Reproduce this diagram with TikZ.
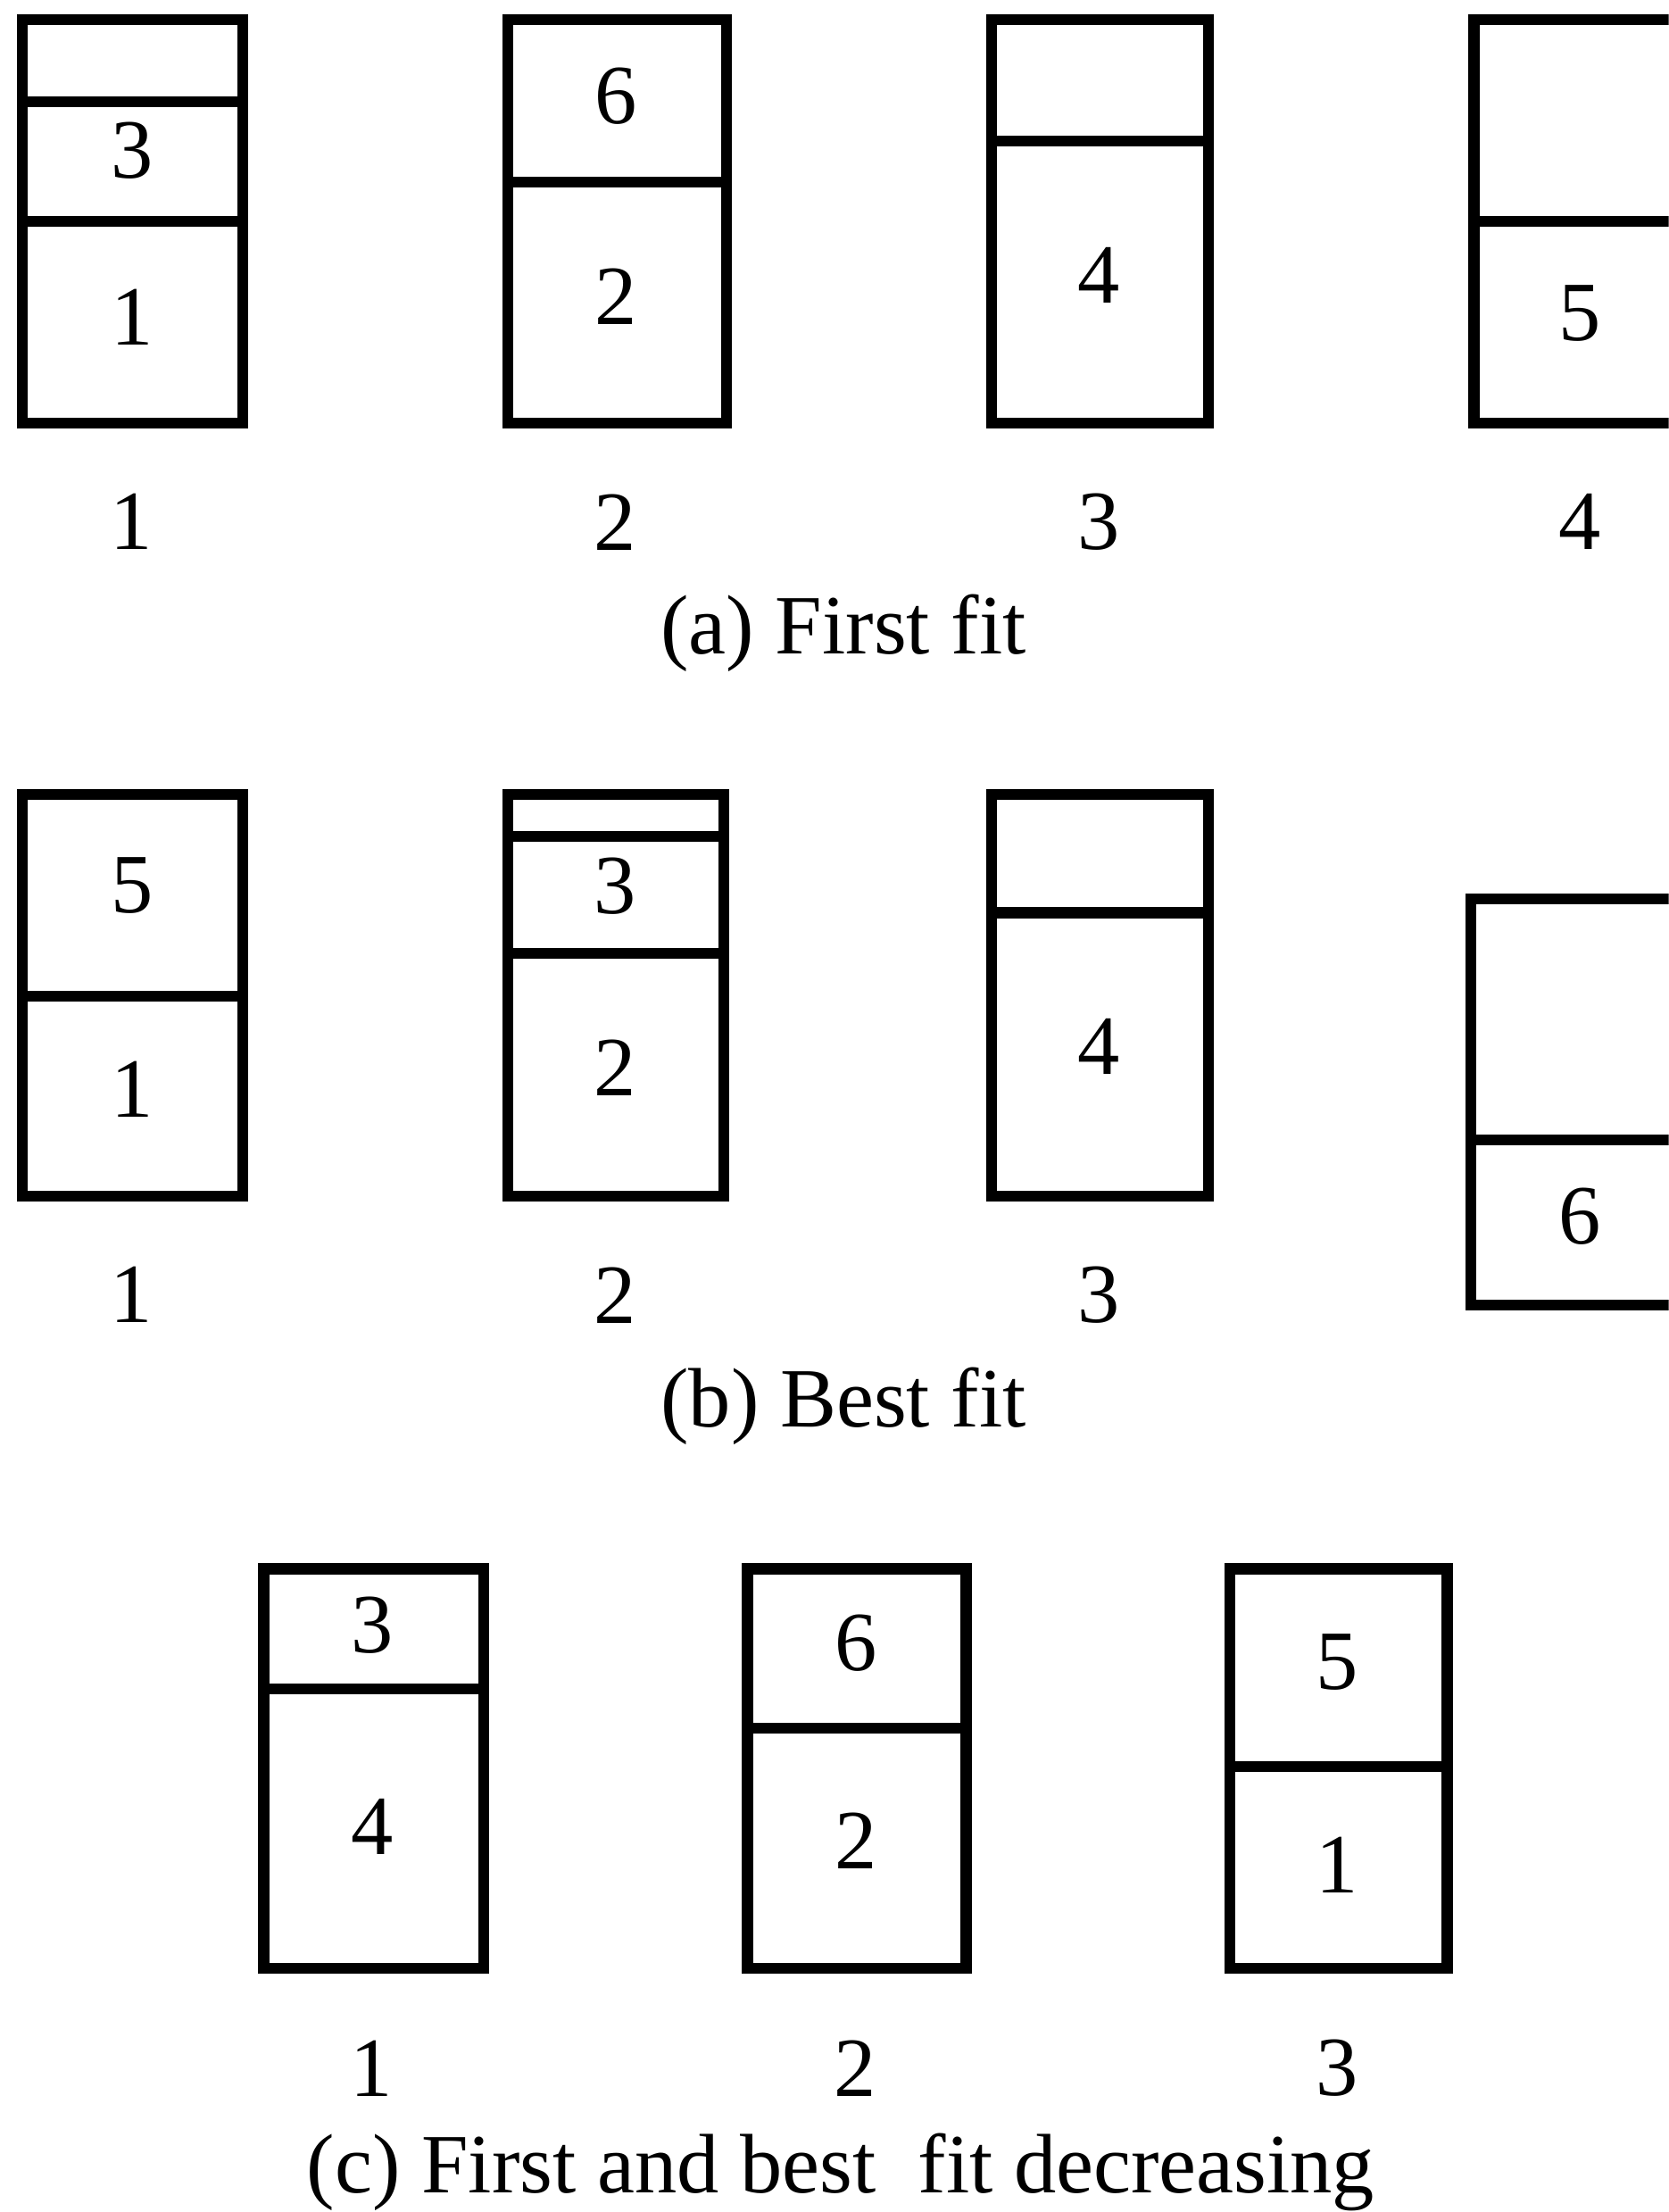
\documentclass[tikz,border=0pt]{standalone}
\usepackage{fontspec}
\setmainfont{Liberation Serif}
\usepackage{tikz}
\newcommand{\binfont}{\fontsize{17}{20}\selectfont}

\begin{document}
\begin{tikzpicture}[x=0.01cm, y=-0.01cm,
  bin/.style={line width=2.2pt},
  item/.style={font=\binfont, inner sep=0pt},
  caption/.style={font=\binfont, inner sep=0pt}]
\useasboundingbox (0,0) rectangle (1183,1568);
\clip (0,0) rectangle (1183,1568);

% (a) first fit
\draw[bin] (16,14) rectangle (172,300) (16,72) -- (172,72) (16,157) -- (172,157);
\draw[bin] (360,14) rectangle (515,300) (360,129) -- (515,129);
\draw[bin] (703,14) rectangle (857,300) (703,100) -- (857,100);
\draw[bin] (1045,14) rectangle (1260,300) (1045,157) -- (1260,157);
\node[item] (a13) at (94,107) {3};
\node[item] (a11) at (94,225) {1};
\node[item] (a26) at (437,68) {6};
\node[item] (a22) at (437,210) {2};
\node[item] (a34) at (779,195) {4};
\node[item] (a45) at (1120,222) {5};
\foreach \x/\n in {93/1, 436/2, 779/3, 1120/4}
  \node[item] (abin\n) at (\x,370) {\n};
\node[caption] (capa) at (598,449) {(a) First fit};

% (b) best fit
\draw[bin] (16,563) rectangle (172,848) (16,706) -- (172,706);
\draw[bin] (360,563) rectangle (513,848) (360,593) -- (513,593) (360,676) -- (513,676);
\draw[bin] (703,563) rectangle (857,848) (703,647) -- (857,647);
\draw[bin] (1043,637) rectangle (1260,925) (1043,808) -- (1260,808);
\node[item] (b15) at (94,628) {5};
\node[item] (b11) at (94,772) {1};
\node[item] (b23) at (436,628) {3};
\node[item] (b22) at (436,757) {2};
\node[item] (b34) at (779,742) {4};
\node[item] (b46) at (1120,862) {6};
\foreach \x/\n in {93/1, 436/2, 779/3}
  \node[item] (bbin\n) at (\x,918) {\n};
\node[caption] (capb) at (598,997) {(b) Best fit};

% (c) first and best fit decreasing
\draw[bin] (187,1112) rectangle (343,1395) (187,1197) -- (343,1197);
\draw[bin] (530,1112) rectangle (685,1395) (530,1225) -- (685,1225);
\draw[bin] (872,1112) rectangle (1026,1395) (872,1252) -- (1026,1252);
\node[item] (c13) at (264,1152) {3};
\node[item] (c14) at (264,1295) {4};
\node[item] (c26) at (607,1165) {6};
\node[item] (c22) at (607,1305) {2};
\node[item] (c35) at (948,1178) {5};
\node[item] (c31) at (948,1322) {1};
\foreach \x/\n in {263/1, 606/2, 948/3}
  \node[item] (cbin\n) at (\x,1466) {\n};
\node[caption] (capc) at (596,1540) {(c) First and best\ \ fit decreasing};
\end{tikzpicture}
\end{document}
